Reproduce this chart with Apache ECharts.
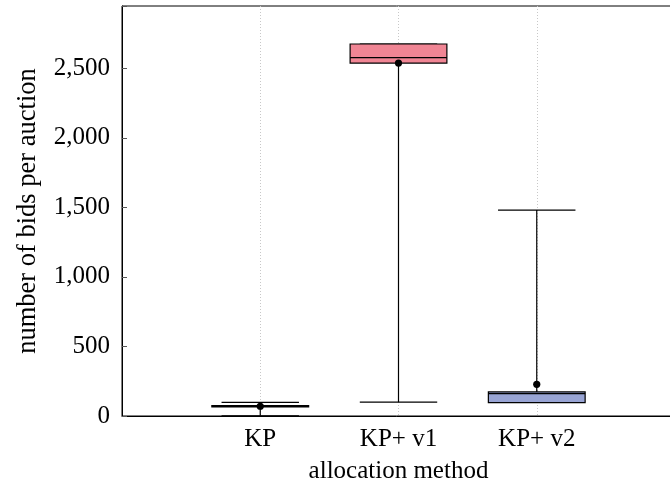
<!DOCTYPE html>
<html>
<head>
<meta charset="utf-8">
<script src="https://cdn.jsdelivr.net/npm/echarts@6/dist/echarts.min.js"></script>
<style>html,body{margin:0;padding:0;background:#fff}#c{width:670px;height:486px}</style>
</head>
<body>
<div id="c"></div>
<script>
// ---- data ----
var categories = ['KP', 'KP+ v1', 'KP+ v2'];
var lowerWhisker = [1, 100, 97];
var lowerQuartile = [66, 2537, 96];
var medians = [70, 2576, 161];
var upperQuartile = [75, 2674, 173];
var upperWhisker = [98, 2674, 1480];
var means = [70, 2537, 228];
var yTicks = [0, 500, 1000, 1500, 2000, 2500];

// ---- style ----
var fills = ['#a9d4a0', '#f08594', '#98a4d4'];
var FONT = 'Liberation Serif';

var boxData = categories.map(function (c, i) {
  return [i + 1, lowerWhisker[i], lowerQuartile[i], medians[i], upperQuartile[i], upperWhisker[i], means[i]];
});

function fmt(v) {
  if (yTicks.indexOf(v) < 0) return '';
  return v.toString().replace(/\B(?=(\d{3})+(?!\d))/g, ',');
}

var chart = echarts.init(document.getElementById('c'), null, {renderer: 'canvas'});
chart.setOption({
  animation: false,
  backgroundColor: '#fff',
  grid: {left: 122, right: -5, top: 6, bottom: 70, show: true, borderColor: '#000', borderWidth: 1,
         containLabel: false, outerBoundsMode: 'none'},
  xAxis: {
    type: 'value', min: 0, max: 4, interval: 1,
    name: 'allocation method', nameLocation: 'middle', nameGap: 43,
    nameTextStyle: {fontFamily: FONT, fontSize: 25, color: '#000'},
    axisLine: {show: true, lineStyle: {color: '#000', width: 1}},
    axisTick: {show: false},
    axisLabel: {
      fontFamily: FONT, fontSize: 25, color: '#000', margin: 11,
      formatter: function (v) { return categories[v - 1] || ''; }
    },
    splitLine: {show: true, lineStyle: {color: '#c8c8c8', type: [1, 2], width: 1}}
  },
  yAxis: [{
    type: 'value', min: 0, max: 2947, interval: 500,
    name: 'number of bids per auction', nameLocation: 'middle', nameGap: 80,
    nameTextStyle: {fontFamily: FONT, fontSize: 26.5, color: '#000'},
    axisLine: {show: true, lineStyle: {color: '#000', width: 1}},
    axisTick: {show: true, inside: true, length: 5, lineStyle: {color: '#555'}},
    axisLabel: {fontFamily: FONT, fontSize: 25, color: '#000', margin: 12, formatter: fmt},
    splitLine: {show: false}
  }, {
    type: 'value', min: 0, max: 2947, interval: 500, position: 'right',
    axisLine: {show: false},
    axisTick: {show: true, inside: true, length: 5, lineStyle: {color: '#555'}},
    axisLabel: {show: false},
    splitLine: {show: false}
  }],
  series: [{
    type: 'custom',
    clip: false,
    data: boxData,
    encode: {x: 0, y: [1, 2, 3, 4, 5, 6]},
    renderItem: function (params, api) {
      var x = api.value(0);
      var lo = api.value(1), q1 = api.value(2), med = api.value(3), q3 = api.value(4), hi = api.value(5), mean = api.value(6);
      var hb = 0.35, hc = 0.28;
      var cx = api.coord([x, 0])[0];
      var bl = api.coord([x - hb, 0])[0], br = api.coord([x + hb, 0])[0];
      var cl = api.coord([x - hc, 0])[0], cr = api.coord([x + hc, 0])[0];
      var yLo = api.coord([x, lo])[1], yQ1 = api.coord([x, q1])[1], yMed = api.coord([x, med])[1];
      var yQ3 = api.coord([x, q3])[1], yHi = api.coord([x, hi])[1], yMean = api.coord([x, mean])[1];
      var ls = {stroke: '#000', lineWidth: 1.2};
      var i = params.dataIndex;
      return {
        type: 'group',
        children: [
          {type: 'line', shape: {x1: cx, y1: yQ1, x2: cx, y2: yLo}, style: ls},
          {type: 'line', shape: {x1: cx, y1: yQ3, x2: cx, y2: yHi}, style: ls},
          {type: 'line', shape: {x1: cl, y1: yLo, x2: cr, y2: yLo}, style: ls},
          {type: 'line', shape: {x1: cl, y1: yHi, x2: cr, y2: yHi}, style: ls},
          {type: 'rect', shape: {x: bl, y: yQ3, width: br - bl, height: yQ1 - yQ3}, style: {fill: fills[i], stroke: '#000', lineWidth: 1.2}},
          {type: 'line', shape: {x1: bl, y1: yMed, x2: br, y2: yMed}, style: ls},
          {type: 'circle', shape: {cx: cx, cy: yMean, r: 3.6}, style: {fill: '#000'}}
        ]
      };
    }
  }]
});
</script>
</body>
</html>
